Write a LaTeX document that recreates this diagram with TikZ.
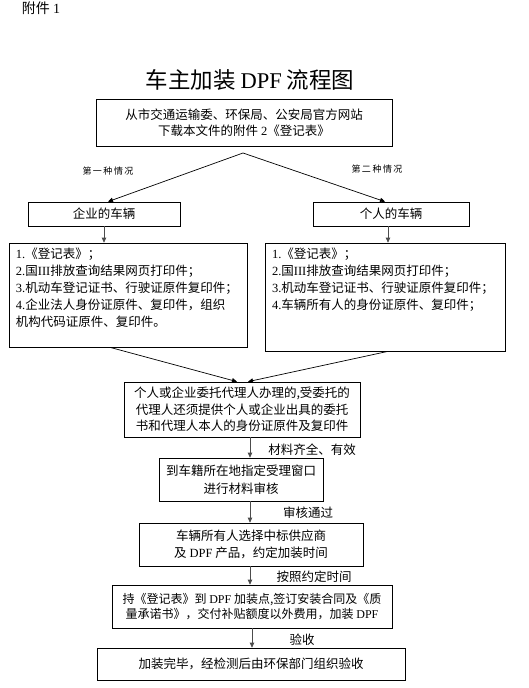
\documentclass[tikz,border=0pt]{standalone}
\usepackage{fontspec}
\newfontfamily\cjk{Noto Sans CJK SC}
\newfontfamily\lat{Liberation Serif}
\usetikzlibrary{arrows.meta}

\tikzset{
  box/.style={draw, line width=0.7pt, inner sep=0pt, align=center,
    font=\cjk\fontsize{12.5}{17}\selectfont},
  arr/.style={-{Triangle[length=5pt,width=4.5pt]}, line width=0.7pt},
  vflow/.style={arr, draw=black!70},
  note/.style={inner sep=0pt, font=\cjk\fontsize{12.5}{15}\selectfont},
  casetag/.style={inner sep=0pt, font=\cjk\fontsize{9}{11}\selectfont},
}

\begin{document}
\begin{tikzpicture}[x=1pt, y=-1pt]
  \useasboundingbox (0,0) rectangle (528,688);

  % -- Heading --
  \node[inner sep=0pt, font=\cjk\fontsize{14}{16}\selectfont] (annex) at (41,8) {附件 {\lat 1}};
  \node[inner sep=0pt, font=\cjk\fontsize{22.5}{24}\selectfont] (title) at (250,80) {车主加装 {\lat DPF} 流程图};

  % -- Download form --
  \node[box, minimum width=296pt, minimum height=47pt] (download) at (244,122.5)
    {从市交通运输委、环保局、公安局官方网站\\[-1pt]下载本文件的附件 {\lat 2}《登记表》};
  \coordinate (split) at (243,153);

  % -- Two cases --
  \node[casetag] (caseone) at (108,171) {第\,一\,种\,情\,况};
  \node[casetag] (casetwo) at (377,169) {第\,二\,种\,情\,况};
  \node[box, minimum width=152pt, minimum height=24pt] (firmcar) at (104,214) {企业的车辆};
  \node[box, minimum width=156pt, minimum height=24pt] (owncar) at (391,214) {个人的车辆};

  % -- Document lists --
  \node[box, minimum width=238pt, minimum height=104pt] (firmlist) at (128,295)
    {\parbox[c][94pt][t]{224pt}{\raggedright
      {\lat 1.}《登记表》；\\
      {\lat 2.}国{\lat III}排放查询结果网页打印件；\\
      {\lat 3.}机动车登记证书、行驶证原件复印件；\\
      {\lat 4.}企业法人身份证原件、复印件，组织\\
      机构代码证原件、复印件。}};
  \node[box, minimum width=240pt, minimum height=108pt] (ownlist) at (385,297)
    {\parbox[c][98pt][t]{226pt}{\raggedright
      {\lat 1.}《登记表》；\\
      {\lat 2.}国{\lat III}排放查询结果网页打印件；\\
      {\lat 3.}机动车登记证书、行驶证原件复印件；\\
      {\lat 4.}车辆所有人的身份证原件、复印件；}};

  % -- Main flow --
  \node[box, minimum width=236pt, minimum height=55pt] (agent) at (242,409.5)
    {个人或企业委托代理人办理的,受委托的\\[-0.5pt]代理人还须提供个人或企业出具的委托\\[-0.5pt]书和代理人本人的身份证原件及复印件};
  \node[box, minimum width=164pt, minimum height=43pt] (window) at (241,479.5)
    {到车籍所在地指定受理窗口\\[1pt]进行材料审核};
  \node[box, minimum width=224pt, minimum height=43pt] (choose) at (251,544.5)
    {车辆所有人选择中标供应商\\及 {\lat DPF} 产品，约定加装时间};
  \node[box, minimum width=280pt, minimum height=43pt, font=\cjk\fontsize{12}{15}\selectfont] (install) at (252,606.5)
    {持《登记表》到 {\lat DPF} 加装点,签订安装合同及《质\\量承诺书》，交付补贴额度以外费用，加装 {\lat DPF}};
  \node[box, minimum width=308pt, minimum height=32pt] (accept) at (251,664)
    {加装完毕，经检测后由环保部门组织验收};

  % -- Step labels --
  \node[note] (okdocs) at (312,450) {材料齐全、有效};
  \node[note] (passed) at (308,513) {审核通过};
  \node[note] (ontime) at (314,577) {按照约定时间};
  \node[note] (check) at (302,640) {验收};

  % -- Connectors --
  \coordinate (spine) at (250,0);
  \draw[arr] (split) -- ([xshift=4pt]firmcar.north);
  \draw[arr] (split) -- ([xshift=-6pt]owncar.north);
  \draw[vflow] (firmcar.south) -- (firmcar.south |- firmlist.north);
  \draw[vflow] ([xshift=-3pt]owncar.south) -- ([xshift=-3pt]owncar.south |- ownlist.north);
  \draw[arr] ([xshift=-18pt]firmlist.south) -- ([xshift=-5pt]agent.north);
  \draw[arr] ([xshift=3pt]ownlist.south) -- ([xshift=6pt]agent.north);
  \draw[vflow] (agent.south -| spine) -- (window.north -| spine);
  \draw[vflow] (window.south -| spine) -- (choose.north -| spine);
  \draw[vflow] (choose.south -| spine) -- (install.north -| spine);
  \draw[vflow] ([xshift=2pt]install.south -| spine) -- ([xshift=2pt]accept.north -| spine);

\end{tikzpicture}
\end{document}
